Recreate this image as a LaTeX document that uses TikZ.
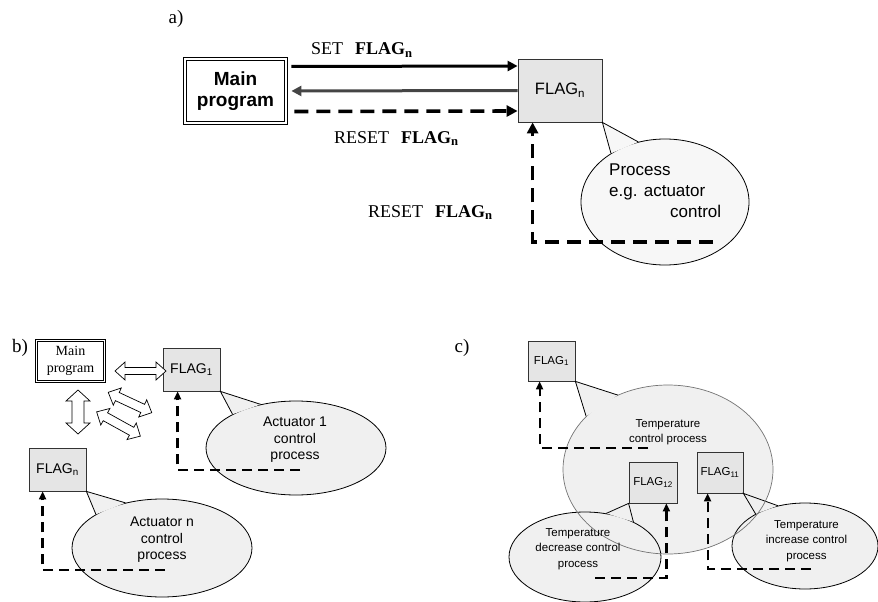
\documentclass[tikz,border=0pt]{standalone}
\usepackage{fontspec}
\setmainfont{Liberation Serif}
\setsansfont{Liberation Sans}
\usetikzlibrary{arrows.meta,shapes.geometric}

\definecolor{boxgray}{gray}{0.9}
\definecolor{ellgray}{gray}{0.94}
\definecolor{ellgrayA}{gray}{0.97}
\definecolor{backarrow}{gray}{0.27}

\newcommand\fsz[2]{\fontsize{#1}{#2}\selectfont}

\tikzset{
  x=1pt, y=-1pt,
  flagbox/.style={draw=black!80, line width=0.8pt, fill=boxgray, inner sep=0pt, font=\sffamily},
  mainbox/.style={draw=black, double, double distance=1.8pt, line width=0.8pt, inner sep=0pt, align=center},
  procell/.style={ellipse, draw=black, line width=0.8pt, fill=ellgray, inner sep=0pt},
  tailline/.style={draw=black, line width=0.8pt},
  proctext/.style={font=\sffamily, align=center, inner sep=0pt},
  lbl/.style={inner sep=0pt, anchor=base west, font=\fsz{18}{18}},
  dashA/.style={line width=3.6pt, dash pattern=on 14pt off 8pt, -{Triangle[length=11pt,width=11pt]}},
  dashB/.style={line width=2.4pt, dash pattern=on 10pt off 6pt, -{Triangle[length=8pt,width=7pt]}},
  hollowline/.style={draw=black, line width=0.7pt, fill=white, line join=miter},
}

% hollow two-headed block arrow:
% centre x, centre y, angle, length, head half-width, shaft half-width, head length
\newcommand\hollowdbl[7]{%
  \begin{scope}[shift={(#1,#2)}, rotate=#3]
    \pgfmathsetmacro\hdhalf{#4/2}
    \filldraw[hollowline] (-\hdhalf,0) -- ({-\hdhalf+#7},#5) -- ({-\hdhalf+#7},#6)
      -- ({\hdhalf-#7},#6) -- ({\hdhalf-#7},#5) -- (\hdhalf,0)
      -- ({\hdhalf-#7},-#5) -- ({\hdhalf-#7},-#6) -- ({-\hdhalf+#7},-#6)
      -- ({-\hdhalf+#7},-#5) -- cycle;
  \end{scope}}

\begin{document}
\begin{tikzpicture}
\useasboundingbox (0,0) rectangle (878,602);

% ---------------- a) ----------------
\node[font=\fsz{19}{19}] (la) at (176,19) {a)};
\node[procell, fill=ellgrayA, minimum width=168pt, minimum height=126pt] (procA) at (665,202) {};
\node[mainbox, minimum width=101pt, minimum height=64pt, font=\sffamily\bfseries\fsz{19}{21}] (mainA) at (235.5,91) {Main\\program};
\node[flagbox, minimum width=84pt, minimum height=63pt, font=\sffamily\fsz{16.5}{18}] (flagA) at (560,90.5) {FLAG\textsubscript{n}};
\fill[ellgrayA] (flagA.south east) -- (procA.114) -- (procA.138) -- cycle;
\draw[tailline] (procA.114) -- (flagA.south east) -- (procA.138);

\node[inner sep=0pt, anchor=base west, font=\sffamily\fsz{17}{17}] (pa1) at (609,175) {Process};
\node[inner sep=0pt, anchor=base west, font=\sffamily\fsz{17}{17}] (pa2) at (609,196) {e.g. actuator};
\node[inner sep=0pt, anchor=base west, font=\sffamily\fsz{17}{17}] (pa3) at (670,217) {control};

\draw[line width=3pt, shorten <=5pt, -{Triangle[length=10pt,width=10pt]}]
  ([yshift=24.5pt]mainA.east) -- ([yshift=24.5pt]flagA.west);
\draw[backarrow, line width=3pt, shorten >=5pt, -{Triangle[length=10pt,width=10pt]}]
  (flagA.west) -- (mainA.east);
\draw[dashA, dash phase=18pt, shorten <=4pt]
  ([yshift=-20.5pt]mainA.east) -- ([yshift=-20.5pt]flagA.west);

\node[lbl] (setA) at (311,55) {SET\hspace{12pt}\textbf{FLAG\textsubscript{n}}};
\node[lbl] (rstA1) at (334,143) {RESET\hspace{12pt}\textbf{FLAG\textsubscript{n}}};
\node[lbl] (rstA2) at (368,217) {RESET\hspace{12pt}\textbf{FLAG\textsubscript{n}}};

\coordinate (dA) at (713,242);
\draw[dashA] (dA) -| ([xshift=15pt]flagA.south west);

% ---------------- b) ----------------
\node[font=\fsz{19}{19}] (lb) at (20,348) {b)};
\node[procell, minimum width=180pt, minimum height=94pt] (procB1) at (296,448) {};
\node[procell, minimum width=180pt, minimum height=98pt] (procBn) at (162,548) {};
\node[mainbox, double distance=1.5pt, line width=0.7pt, minimum width=68pt, minimum height=41pt, font=\fsz{14}{17}] (mainB) at (70.5,361) {Main\\program};
\node[flagbox, minimum width=57pt, minimum height=43pt, font=\sffamily\fsz{14}{16}] (flagB1) at (191.5,369.5) {FLAG\textsubscript{1}};
\node[flagbox, minimum width=57pt, minimum height=43pt, font=\sffamily\fsz{14}{16}] (flagBn) at (57.5,469.5) {FLAG\textsubscript{n}};

\fill[ellgray] (flagB1.south east) -- (procB1.129) -- (procB1.152) -- cycle;
\draw[tailline] (procB1.129) -- (flagB1.south east) -- (procB1.152);
\fill[ellgray] (flagBn.south east) -- (procBn.129) -- (procBn.153) -- cycle;
\draw[tailline] (procBn.129) -- (flagBn.south east) -- (procBn.153);

\node[proctext, font=\sffamily\fsz{14}{16.5}] (tB1) at (295,440) {Actuator 1\\control\\process};
\node[proctext, font=\sffamily\fsz{14}{16.5}] (tBn) at (162,540) {Actuator n\\control\\process};

% block arrows between the main program and the flags
\hollowdbl{140.5}{371}{0}{51}{9}{3.5}{10}
\hollowdbl{78}{412}{90}{44}{12}{6}{11}
\hollowdbl{130}{402.5}{-25}{48}{9.5}{4.5}{10}
\hollowdbl{118.5}{424}{-29}{50}{9.5}{4.5}{10}

\coordinate (dB1) at (300,470);
\draw[dashB] (dB1) -| ([xshift=15pt]flagB1.south west);
\coordinate (dBn) at (165,570);
\draw[dashB] (dBn) -| ([xshift=14pt]flagBn.south west);

% ---------------- c) ----------------
\node[font=\fsz{19}{19}] (lc) at (462,348) {c)};
\node[ellipse, fill=ellgray, inner sep=0pt, minimum width=210pt, minimum height=169pt] (tcp) at (668,469.5) {};
\node[procell, minimum width=152pt, minimum height=90pt] (tdec) at (585,557) {};
\node[procell, minimum width=146pt, minimum height=86pt] (tinc) at (805,546) {};
\node[flagbox, minimum width=48pt, minimum height=41pt, font=\sffamily\fsz{11.5}{13}] (flagC12) at (653,482.5) {FLAG\textsubscript{12}};
\node[flagbox, minimum width=46pt, minimum height=41pt, font=\sffamily\fsz{11.5}{13}] (flagC11) at (720,472.5) {FLAG\textsubscript{11}};

\fill[ellgray] (flagC12.south west) -- (tdec.64) -- (tdec.36) -- cycle;
\draw[tailline] (tdec.64) -- (flagC12.south west) -- (tdec.36);
\fill[ellgray] (flagC11.south east) -- (tinc.124) -- (tinc.147) -- cycle;
\draw[tailline] (tinc.124) -- (flagC11.south east) -- (tinc.147);

\node[ellipse, draw=black!55, line width=0.7pt, inner sep=0pt, minimum width=210pt, minimum height=169pt] (tcpline) at (tcp) {};

\node[flagbox, minimum width=47pt, minimum height=40pt, font=\sffamily\fsz{11.5}{13}] (flagC1) at (551.5,361) {FLAG\textsubscript{1}};
\fill[ellgray] (flagC1.south east) -- (tcp.124) -- (tcp.147) -- cycle;
\draw[tailline] (tcp.124) -- (flagC1.south east) -- (tcp.147);

\node[proctext, font=\sffamily\fsz{11.5}{15}] (tC) at (668,432.5) {Temperature\\control process};
\node[proctext, font=\sffamily\fsz{11.5}{15.5}] (tCd) at (578,549) {Temperature\\decrease control\\process};
\node[proctext, font=\sffamily\fsz{11.5}{15.5}] (tCi) at (806.5,541) {Temperature\\increase control\\process};

\coordinate (dC1) at (648,448);
\draw[dashB, line width=2.2pt] (dC1) -| ([xshift=12pt]flagC1.south west);
\coordinate (dC12) at (595,578);
\draw[dashB, line width=2.2pt] (dC12) -| ([xshift=-11pt]flagC12.south east);
\coordinate (dC11) at (811,569);
\draw[dashB, line width=2.2pt] (dC11) -| ([xshift=11pt]flagC11.south west);
\end{tikzpicture}
\end{document}
